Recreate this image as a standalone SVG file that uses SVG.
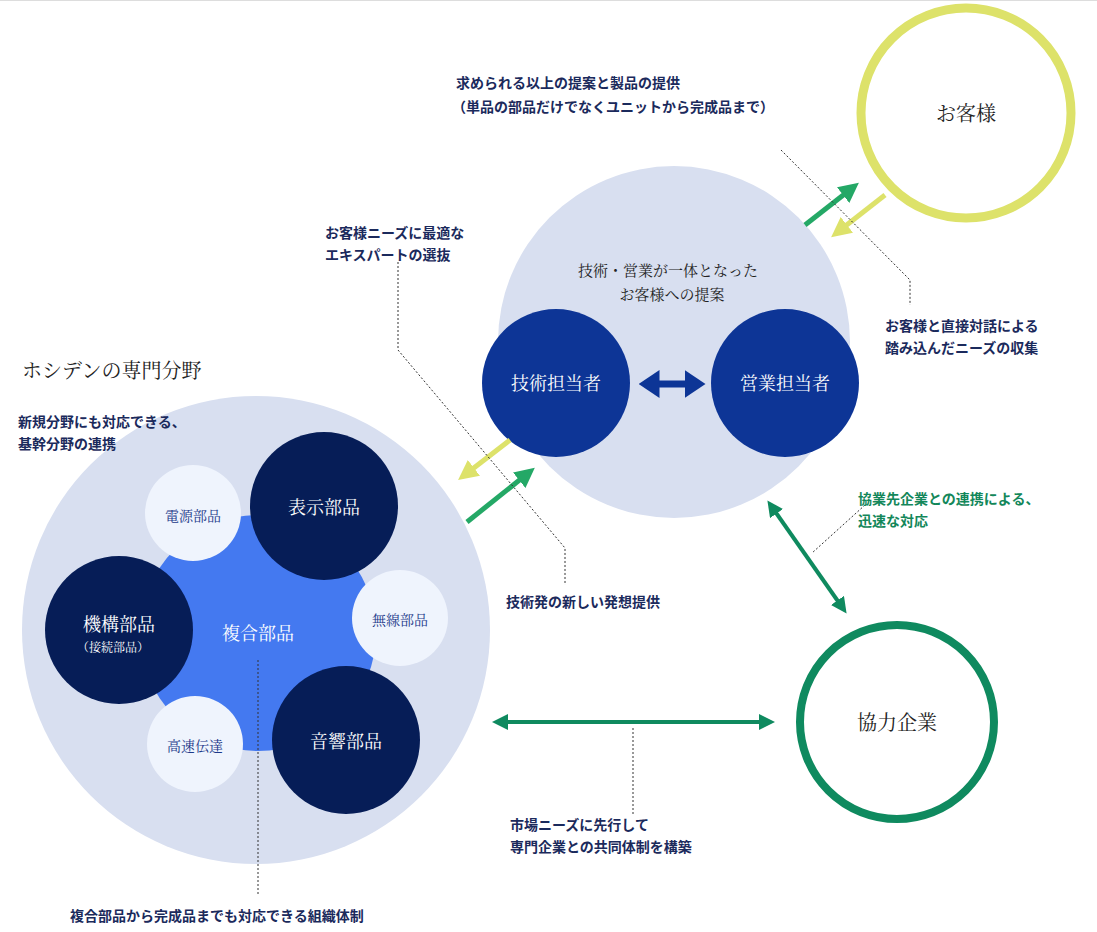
<svg xmlns="http://www.w3.org/2000/svg" width="1097" height="932" viewBox="0 0 1097 932">
<style>
.lb{font-family:"Noto Sans CJK JP",sans-serif;font-weight:bold;font-size:14px;fill:#1b2a5c}
.lg{font-family:"Noto Sans CJK JP",sans-serif;font-weight:bold;font-size:14px;fill:#13875a}
.sf{font-family:"Noto Serif CJK JP","Noto Sans CJK JP",serif;text-anchor:middle}
.dot{stroke:#333;stroke-width:1;stroke-dasharray:2 2;fill:none}
</style>
<defs>
<marker id="mg" markerWidth="4" markerHeight="4" refX="2" refY="2" orient="auto-start-reverse" markerUnits="strokeWidth"><path d="M0,0L4,2L0,4Z" fill="#24a866"/></marker>
<marker id="my" markerWidth="4" markerHeight="4" refX="2" refY="2" orient="auto-start-reverse" markerUnits="strokeWidth"><path d="M0,0L4,2L0,4Z" fill="#dde26a"/></marker>
<marker id="md" markerWidth="4" markerHeight="4" refX="2" refY="2" orient="auto-start-reverse" markerUnits="strokeWidth"><path d="M0,0L4,2L0,4Z" fill="#0f8a5f"/></marker>
<marker id="mb" markerWidth="3" markerHeight="4" refX="1.5" refY="2" orient="auto-start-reverse" markerUnits="strokeWidth"><path d="M0,0L3,2L0,4Z" fill="#0d3596"/></marker>
</defs>
<rect width="1097" height="932" fill="#fff"/>
<line x1="0" y1="0.5" x2="1097" y2="0.5" stroke="#ddd"/>
<g id="hoshiden">
<circle cx="256" cy="630" r="234" fill="#d8dff0"/>
<text x="22" y="378" font-family="Noto Serif CJK JP,Noto Sans CJK JP,serif" font-size="20" fill="#222">ホシデンの専門分野</text>
<circle cx="258" cy="633" r="118" fill="#4479f0"/>
<text x="258" y="640" class="sf" font-size="18" fill="#fff">複合部品</text>
</g>
<g id="n-dengen"><circle cx="193" cy="513" r="48" fill="#eff4fd"/><text x="193" y="521" class="sf" font-size="14" fill="#1d3a8a">電源部品</text></g>
<g id="n-hyouji"><circle cx="324" cy="506" r="74" fill="#061d57"/><text x="324" y="514" class="sf" font-size="18" fill="#fff">表示部品</text></g>
<g id="n-musen"><circle cx="400" cy="618" r="48" fill="#eff4fd"/><text x="400" y="625" class="sf" font-size="14" fill="#1d3a8a">無線部品</text></g>
<g id="n-kikou"><circle cx="119" cy="630" r="74" fill="#061d57"/><text x="119" y="631" class="sf" font-size="18" fill="#fff">機構部品</text><text x="113" y="652" class="sf" font-size="12" fill="#fff">（接続部品）</text></g>
<g id="n-kousoku"><circle cx="195" cy="744" r="48" fill="#eff4fd"/><text x="195" y="751" class="sf" font-size="14" fill="#1d3a8a">高速伝達</text></g>
<g id="n-onkyou"><circle cx="346" cy="740" r="74" fill="#061d57"/><text x="346" y="748" class="sf" font-size="18" fill="#fff">音響部品</text></g>
<g id="team">
<circle cx="674" cy="342" r="176" fill="#d8dff0"/>
<text x="668" y="276" class="sf" font-size="15" fill="#222">技術・営業が一体となった</text>
<text x="672" y="300" class="sf" font-size="15" fill="#222">お客様への提案</text>
</g>
<g id="n-gijutsu"><circle cx="556" cy="383" r="74" fill="#0d3596"/><text x="556" y="390" class="sf" font-size="18" fill="#fff">技術担当者</text></g>
<g id="n-eigyou"><circle cx="785" cy="383" r="74" fill="#0d3596"/><text x="785" y="390" class="sf" font-size="18" fill="#fff">営業担当者</text></g>
<g id="n-customer"><circle cx="966" cy="113" r="105" fill="none" stroke="#dde26a" stroke-width="9"/><text x="966" y="121" class="sf" font-size="20" fill="#222">お客様</text></g>
<g id="n-partner"><circle cx="897" cy="722" r="97" fill="none" stroke="#0f8a5f" stroke-width="8"/><text x="897" y="730" class="sf" font-size="20" fill="#222">協力企業</text></g>
<g id="connectors">
<line x1="805" y1="225" x2="851" y2="189" stroke="#24a866" stroke-width="5" marker-end="url(#mg)"/>
<line x1="885" y1="195" x2="839" y2="231" stroke="#dde26a" stroke-width="5" marker-end="url(#my)"/>
<line x1="510" y1="440" x2="466" y2="474" stroke="#dde26a" stroke-width="5" marker-end="url(#my)"/>
<line x1="467" y1="522" x2="527" y2="474" stroke="#24a866" stroke-width="5" marker-end="url(#mg)"/>
<line x1="649" y1="384" x2="695" y2="384" stroke="#0d3596" stroke-width="7" marker-start="url(#mb)" marker-end="url(#mb)"/>
<line x1="772" y1="507" x2="842" y2="607" stroke="#0f8a5f" stroke-width="4" marker-start="url(#md)" marker-end="url(#md)"/>
<line x1="500" y1="722" x2="767" y2="722" stroke="#0f8a5f" stroke-width="4" marker-start="url(#md)" marker-end="url(#md)"/>
<polyline class="dot" points="781,150 910,280 910,305"/>
<polyline class="dot" points="398,262 398,350 565,548 565,585"/>
<polyline class="dot" points="865,505 812,553"/>
<polyline class="dot" points="258,660 258,895"/>
<polyline class="dot" points="633,728 633,815"/>
</g>
<g id="labels">
<text x="456" y="88" class="lb">求められる以上の提案と製品の提供</text>
<text x="452" y="112" class="lb">（単品の部品だけでなくユニットから完成品まで）</text>
<text x="325" y="238" class="lb">お客様ニーズに最適な</text>
<text x="325" y="260" class="lb">エキスパートの選抜</text>
<text x="885" y="331" class="lb">お客様と直接対話による</text>
<text x="885" y="353" class="lb">踏み込んだニーズの収集</text>
<text x="18" y="427" class="lb">新規分野にも対応できる、</text>
<text x="18" y="449" class="lb">基幹分野の連携</text>
<text x="506" y="607" class="lb">技術発の新しい発想提供</text>
<text x="858" y="504" class="lg">協業先企業との連携による、</text>
<text x="858" y="526" class="lg">迅速な対応</text>
<text x="510" y="830" class="lb" fill="#0d3a2a">市場ニーズに先行して</text>
<text x="510" y="852" class="lb">専門企業との共同体制を構築</text>
<text x="70" y="921" class="lb">複合部品から完成品までも対応できる組織体制</text>
</g>
</svg>
